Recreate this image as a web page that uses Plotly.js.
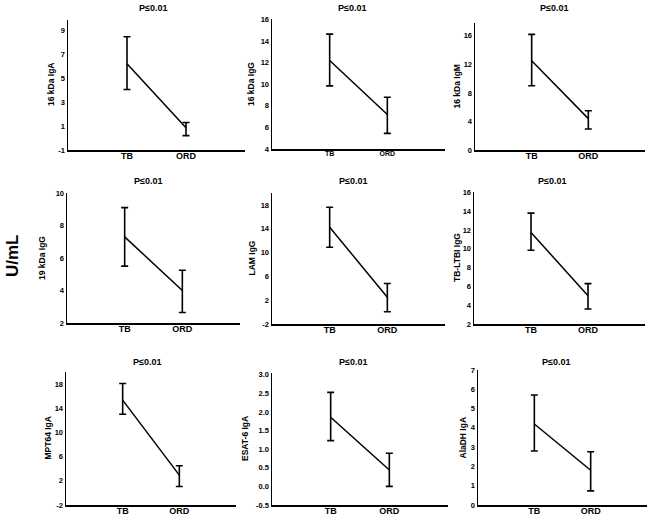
<!DOCTYPE html>
<html>
<head>
<meta charset="utf-8">
<script src="https://cdn.plot.ly/plotly-3.0.1.min.js"></script>
<style>html,body{margin:0;padding:0;background:#fff;}#chart{width:650px;height:520px;}</style>
</head>
<body>
<div id="chart"></div>
<script>
// ---- data ----
const groups = ['TB', 'ORD'];
const panelNames = ['16 kDa IgA', '16 kDa IgG', '16 kDa IgM', '19 kDa IgG', 'LAM IgG', 'TB-LTBI IgG', 'MPT64 IgA', 'ESAT-6 IgA', 'AlaDH IgA'];
const pLabels = ['P≤0.01', 'P≤0.01', 'P≤0.01', 'P≤0.01', 'P≤0.01', 'P≤0.01', 'P≤0.01', 'P≤0.01', 'P≤0.01'];
const tbMean  = [6.2, 12.2, 12.5, 7.3, 14.25, 11.75, 15.35, 1.86, 4.2];
const tbUpper = [8.45, 14.65, 16.2, 9.1, 17.6, 13.8, 18.1, 2.53, 5.7];
const tbLower = [4.05, 9.85, 9.0, 5.5, 10.9, 9.85, 13.0, 1.23, 2.8];
const ordMean  = [0.85, 7.2, 4.4, 4.0, 2.5, 5.0, 2.95, 0.44, 1.8];
const ordUpper = [1.3, 8.8, 5.5, 5.25, 4.8, 6.3, 4.5, 0.89, 2.76];
const ordLower = [0.2, 5.45, 2.95, 2.65, 0.05, 3.6, 1.05, 0.0, 0.73];
const yTickVals = [
  [-1, 1, 3, 5, 7, 9],
  [4, 6, 8, 10, 12, 14, 16],
  [0, 4, 8, 12, 16],
  [2, 4, 6, 8, 10],
  [-2, 2, 6, 10, 14, 18],
  [2, 4, 6, 8, 10, 12, 14, 16],
  [-2, 2, 6, 10, 14, 18],
  [-0.5, 0, 0.5, 1, 1.5, 2, 2.5, 3],
  [0, 1, 2, 3, 4, 5, 6, 7]
];
const sharedUnit = 'U/mL';

// ---- layout (pixel geometry) ----
const W = 650, H = 520;
const boxes = [ // [x0, x1, yTop, yBottom] in px
  [68, 245, 20, 150], [272, 445, 19, 149], [475, 645, 23, 150],
  [67, 240, 193, 323], [272, 445, 193, 324], [474, 645, 192, 324],
  [66, 236, 372, 505], [272, 448, 373, 505], [478, 647, 370, 505]
];
const yRanges = [[-1, 9.85], [4, 16.05], [0, 17.8], [2, 10], [-2, 20], [2, 16.05], [-2, 20], [-0.5, 3.05], [0, 7]];
const yTitleX = [51, 251, 457, 42, 251, 457, 47, 245, 462];
const titlePos = [[153, 8], [352, 8], [554, 8], [148, 181], [353, 181], [552, 181], [147, 362], [353, 362], [556, 362]];
const xTickSize = [9, 7, 9, 9, 9, 9, 9, 9, 9];

const FONT = 'Liberation Sans, Arial, sans-serif';
const traces = [];
const layout = {
  width: W, height: H,
  margin: {l: 0, r: 0, t: 0, b: 0},
  paper_bgcolor: '#fff', plot_bgcolor: '#fff',
  showlegend: false,
  font: {family: FONT, color: '#000'},
  annotations: []
};

for (let i = 0; i < panelNames.length; i++) {
  const s = i === 0 ? '' : String(i + 1);
  const b = boxes[i];
  const means = [tbMean[i], ordMean[i]];
  const ups = [tbUpper[i], ordUpper[i]];
  const lows = [tbLower[i], ordLower[i]];
  traces.push({
    type: 'scatter', mode: 'lines',
    x: groups, y: means,
    xaxis: 'x' + s, yaxis: 'y' + s,
    line: {color: '#000', width: 1.5},
    error_y: {
      type: 'data', symmetric: false,
      array: means.map((m, k) => ups[k] - m),
      arrayminus: means.map((m, k) => m - lows[k]),
      color: '#000', thickness: 1.6, width: 3.5
    },
    hoverinfo: 'skip'
  });
  layout['xaxis' + s] = {
    domain: [b[0] / W, b[1] / W],
    anchor: 'y' + s,
    type: 'category',
    categoryorder: 'array', categoryarray: groups,
    range: [-1, 2],
    showline: true, linecolor: '#000', linewidth: 1.5,
    showgrid: false, zeroline: false, ticks: '',
    ticklabelstandoff: -3,
    tickfont: {family: FONT, size: xTickSize[i], weight: 'bold', color: '#000'},
    fixedrange: true
  };
  layout['yaxis' + s] = {
    domain: [1 - b[3] / H, 1 - b[2] / H],
    anchor: 'x' + s,
    range: yRanges[i],
    tickmode: 'array',
    tickvals: yTickVals[i],
    ticktext: yTickVals[i].map(v => i === 7 ? v.toFixed(1) : String(v)),
    showline: true, linecolor: '#000', linewidth: 1.5,
    showgrid: false, zeroline: false, ticks: '',
    ticklabelstandoff: 0,
    tickfont: {family: FONT, size: 7.5, weight: 'bold', color: '#000'},
    fixedrange: true
  };
  layout.annotations.push({
    text: panelNames[i], textangle: -90,
    xref: 'paper', yref: 'paper',
    x: yTitleX[i] / W, y: 1 - ((b[2] + b[3]) / 2) / H,
    xanchor: 'center', yanchor: 'middle', showarrow: false,
    font: {family: FONT, size: 8.5, weight: 'bold', color: '#000'}
  });
  layout.annotations.push({
    text: pLabels[i],
    xref: 'paper', yref: 'paper',
    x: titlePos[i][0] / W, y: 1 - titlePos[i][1] / H,
    xanchor: 'center', yanchor: 'middle', showarrow: false,
    font: {family: FONT, size: 9, weight: 'bold', color: '#000'}
  });
}
layout.annotations.push({
  text: sharedUnit, textangle: -90,
  xref: 'paper', yref: 'paper',
  x: 12 / W, y: 1 - 256 / H,
  xanchor: 'center', yanchor: 'middle', showarrow: false,
  font: {family: FONT, size: 17, weight: 'bold', color: '#000'}
});

Plotly.newPlot('chart', traces, layout, {displayModeBar: false, staticPlot: true});
</script>
</body>
</html>
